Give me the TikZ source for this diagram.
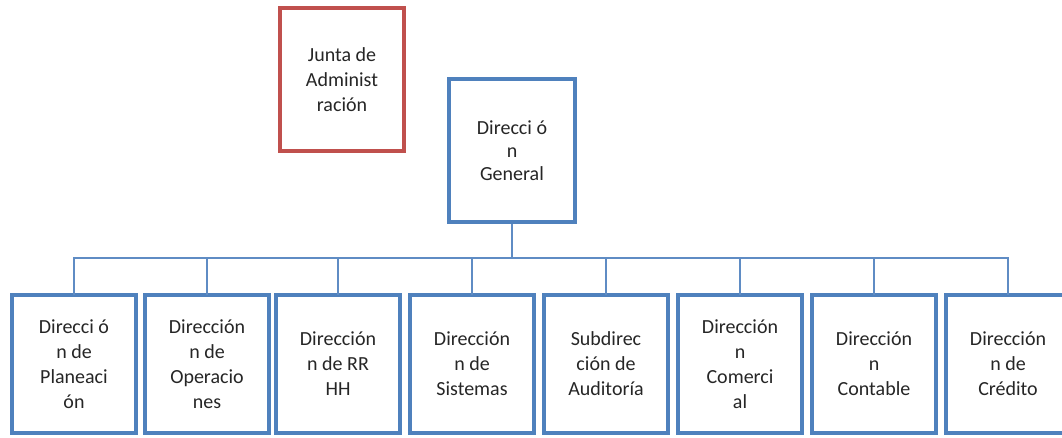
\documentclass[tikz,border=0pt]{standalone}
\usepackage{fontspec}
\setmainfont{Carlito}
\definecolor{boxblue}{RGB}{79,129,189}
\definecolor{boxred}{RGB}{192,80,77}
\definecolor{linkblue}{RGB}{95,140,196}
\begin{document}
\begin{tikzpicture}[x=1pt,y=-1pt,
  unit/.style={draw=boxblue, line width=4pt, fill=white, align=center,
    font=\fontsize{20}{25}\selectfont, inner sep=0pt, text=black!85},
  sub/.style={unit, minimum width=124pt, minimum height=138pt},
  link/.style={draw=linkblue, line width=2pt}]
\useasboundingbox (0,0) rectangle (1062,438);
\node[unit, draw=boxred, minimum width=124pt, minimum height=143pt] (junta) at (342,79.5) {Junta de\\Administ\\ración};
\node[unit, minimum width=126pt, minimum height=143pt, font=\fontsize{20}{23}\selectfont] (dg) at (512,150.5) {Direcci ó\\n\\General};
\node[sub] (b1) at (74,364) {Direcci ó\\n de\\Planeaci\\ón};
\node[sub] (b2) at (207,364) {Dirección\\n de\\Operacio\\nes};
\node[sub] (b3) at (338,364) {Dirección\\n de RR\\HH};
\node[sub] (b4) at (472,364) {Dirección\\n de\\Sistemas};
\node[sub] (b5) at (606,364) {Subdirec\\ción de\\Auditoría};
\node[sub] (b6) at (740,364) {Dirección\\n\\Comerci\\al};
\node[sub] (b7) at (874,364) {Dirección\\n\\Contable};
\node[sub] (b8) at (1008,364) {Dirección\\n de\\Crédito};
\coordinate (bus) at (512,258);
\draw[link] (dg.south) -- (bus);
\draw[link] (b1.north -| b1) ++(0,-2) -- (b1 |- bus) -- (b8 |- bus) -- ([yshift=-2pt]b8.north);
\foreach \b in {b2,b3,b4,b5,b6,b7} {
  \draw[link] ([yshift=-2pt]\b.north) -- (\b |- bus);
}
\draw[link] ([yshift=-2pt]b1.north) -- (b1 |- bus);
\end{tikzpicture}
\end{document}
